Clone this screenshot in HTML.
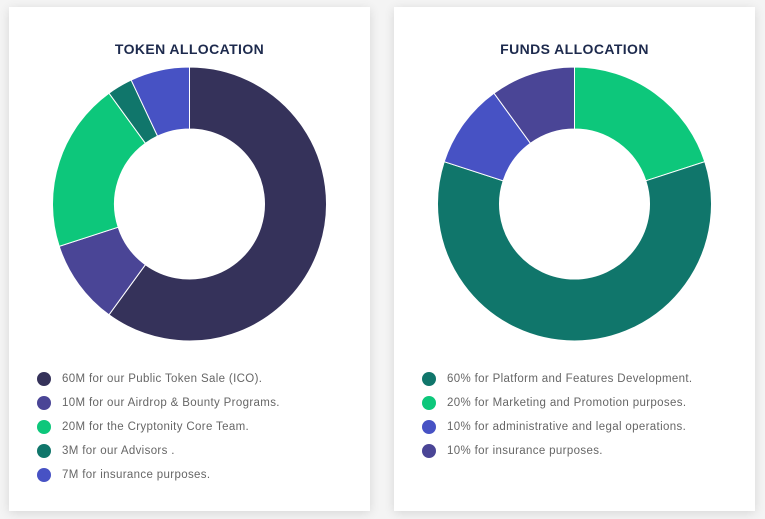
<!DOCTYPE html>
<html><head><meta charset="utf-8"><style>
body{margin:0;width:765px;height:519px;background:#f4f4f4;font-family:"Liberation Sans",sans-serif;position:relative;overflow:hidden}
.card{position:absolute;top:7px;width:361px;height:504px;background:#fff;box-shadow:0 2px 10px rgba(0,0,0,0.12)}
.title{position:absolute;top:34px;left:0;width:100%;text-align:center;font-weight:bold;font-size:14px;color:#1d2a4d;letter-spacing:0.4px}
.leg{position:absolute;font-size:11.5px;color:#666;height:16px;line-height:16px;letter-spacing:0.35px}
.dot{position:absolute;width:14px;height:14px;border-radius:50%;top:1px}
svg{position:absolute;left:0;top:0}
</style></head><body>
<div class="card" id="c1" style="left:9px"><div class="title">TOKEN ALLOCATION</div></div>
<div class="card" id="c2" style="left:394px"><div class="title">FUNDS ALLOCATION</div></div>
<script>
const tokenValues=[60,10,20,3,7];
const tokenColors=["#35325a","#4a4596","#0dc77b","#10766b","#4752c4"];
const tokenLabels=["60M for our Public Token Sale (ICO).","10M for our Airdrop & Bounty Programs.","20M for the Cryptonity Core Team.","3M for our Advisors .","7M for insurance purposes."];
const fundValues=[20,60,10,10];
const fundColors=["#0dc77b","#10766b","#4752c4","#4a4596"];
const fundLegendLabels=["60% for Platform and Features Development.","20% for Marketing and Promotion purposes.","10% for administrative and legal operations.","10% for insurance purposes."];
const fundLegendColors=["#10766b","#0dc77b","#4752c4","#4a4596"];
const NS="http://www.w3.org/2000/svg";
function donut(card,values,colors,name){
  const svg=document.createElementNS(NS,"svg");svg.setAttribute("width",361);svg.setAttribute("height",504);
  const cx=180.5,cy=197,R=137,r=75;const tot=values.reduce((a,b)=>a+b,0);let a0=0;
  values.forEach((v,i)=>{const a1=a0+v/tot*2*Math.PI;
    const p=(rad,a)=>[cx+rad*Math.sin(a),cy-rad*Math.cos(a)];const lg=(a1-a0)>Math.PI?1:0;
    const [x1,y1]=p(R,a0),[x2,y2]=p(R,a1),[x3,y3]=p(r,a1),[x4,y4]=p(r,a0);
    const path=document.createElementNS(NS,"path");
    path.setAttribute("d",`M${x1},${y1}A${R},${R} 0 ${lg} 1 ${x2},${y2}L${x3},${y3}A${r},${r} 0 ${lg} 0 ${x4},${y4}Z`);
    path.setAttribute("fill",colors[i]);path.setAttribute("stroke","#fff");path.setAttribute("stroke-width","1");
    
    
    svg.appendChild(path);a0=a1;});
  card.appendChild(svg);
}
function legend(card,labels,colors,x,name){
  labels.forEach((t,i)=>{const d=document.createElement("div");d.className="leg";d.style.left=x+"px";d.style.top=(364+i*24)+"px";
    d.innerHTML='<span class="dot" style="left:0;background:'+colors[i]+'"></span><span style="position:absolute;left:25px;white-space:nowrap"></span>';
    d.lastChild.textContent=t;
    
    
    card.appendChild(d);});
}
const c1=document.getElementById("c1"),c2=document.getElementById("c2");
donut(c1,tokenValues,tokenColors,"token");donut(c2,fundValues,fundColors,"funds");
legend(c1,tokenLabels,tokenColors,28,"token");legend(c2,fundLegendLabels,fundLegendColors,28,"funds");
</script>
</body></html>
